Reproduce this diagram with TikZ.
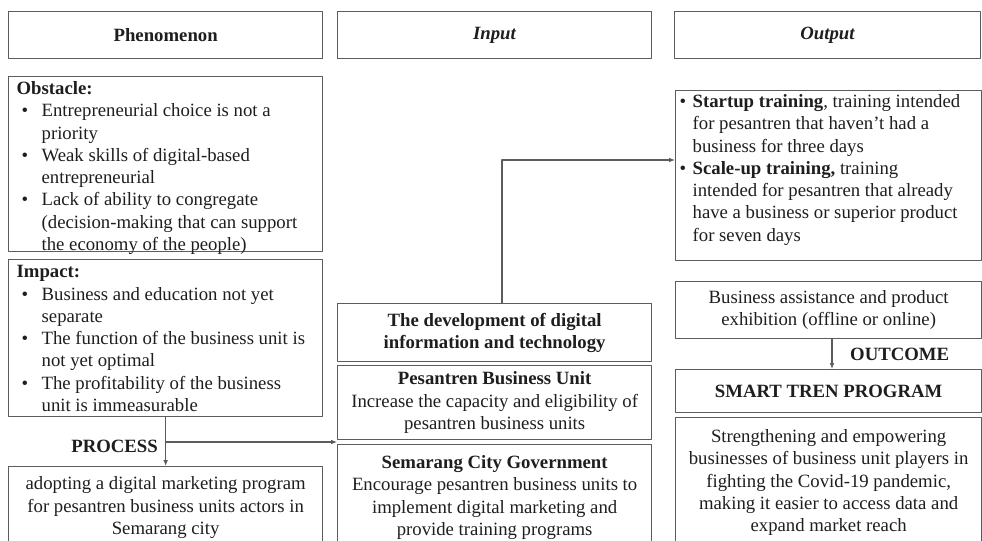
\documentclass[tikz,border=0pt]{standalone}
\usepackage{fontspec}
\setmainfont{Liberation Serif}
\usetikzlibrary{arrows.meta,positioning}
\newlength\px \setlength\px{0.03cm}
\definecolor{linegray}{HTML}{5C5C5C}
\definecolor{inkgray}{HTML}{1E1E1E}
\newcommand\bitem[3][25]{\par\hangindent=#1\px\hangafter=1\noindent\makebox[#1\px][l]{\hspace{#2\px}\textbullet}#3}
\newcommand\topcell[4]{\parbox[c][#2\px][t]{#1\px}{\raggedright\vspace*{#3\px}#4}}
\begin{document}
\begin{tikzpicture}[x=0.03cm, y=-0.03cm, line join=round, >={Latex[length=5pt,width=4pt]}]
\tikzset{every node/.style={font=\fontsize{16}{19}\selectfont, text=inkgray},
  box/.style={draw=linegray, line width=1.1pt, anchor=north west, inner sep=0pt, minimum width=314\px, align=center},
  conn/.style={draw=linegray, line width=0.9pt, ->},
  lbl/.style={font=\fontsize{16}{19}\selectfont\bfseries, inner sep=0pt}}
\def\colA{8}\def\colB{337}\def\colC{675}
\useasboundingbox (0,0) rectangle (982,541);
\clip (0,0) rectangle (982,541);
\node[box, minimum height=47\px] (phen) at (\colA,11) {\textbf{Phenomenon}};
\node[box, minimum height=47\px] (inp) at (\colB,11) {\textbf{\textit{Input}}};
\node[box, minimum height=47\px, minimum width=306\px] (outp) at (\colC-1,11) {\textbf{\textit{Output}}};
\node[box, inner xsep=8\px] (obst) at (\colA,76) {\topcell{298}{175}{5}{\textbf{Obstacle:}
  \bitem{5}{Entrepreneurial choice is not a\newline priority}
  \bitem{5}{Weak skills of digital-based\newline entrepreneurial}
  \bitem{5}{Lack of ability to congregate\newline (decision-making that can support\newline the economy of the people)}}};
\node[box, inner xsep=8\px] (imp) at (\colA,259) {\topcell{298}{157}{6}{\textbf{Impact:}
  \bitem{5}{Business and education not yet\newline separate}
  \bitem{5}{The function of the business unit is\newline not yet optimal}
  \bitem{5}{The profitability of the business\newline unit is immeasurable}}};
\node[box, minimum height=82\px] (proc) at (\colA,466) {adopting a digital marketing program\\for pesantren business units actors in\\Semarang city};
\node[box, minimum height=58\px] (dev) at (\colB,303) {\textbf{The development of digital}\\\textbf{information and technology}};
\node[box, minimum height=74\px] (pbu) at (\colB,365) {\textbf{Pesantren Business Unit}\\Increase the capacity and eligibility of\\pesantren business units};
\node[box, minimum height=106\px] (scg) at (\colB,444) {\textbf{Semarang City Government}\\Encourage pesantren business units to\\implement digital marketing and\\provide training programs};
\node[box, inner xsep=4\px, minimum width=306\px] (train) at (\colC,90) {\topcell{298}{170}{4}{%
  \bitem[13]{0}{\textbf{Startup training}, training intended\newline for pesantren that haven't had a\newline business for three days}
  \bitem[13]{0}{\textbf{Scale-up training,} training\newline intended for pesantren that already\newline have a business or superior product\newline for seven days}}};
\node[box, minimum height=57\px, minimum width=306\px] (assist) at (\colC,281) {Business assistance and product\\exhibition (offline or online)};
\node[box, minimum height=43\px, minimum width=306\px] (smart) at (\colC,369) {\textbf{SMART TREN PROGRAM}};
\node[box, minimum height=130\px, minimum width=306\px] (streng) at (\colC,417) {Strengthening and empowering\\businesses of business unit players in\\fighting the Covid-19 pandemic,\\making it easier to access data and\\expand market reach};
\node[lbl, anchor=east] (proclbl) at (158,446) {PROCESS};
\node[lbl, anchor=west] (outlbl) at (850,354) {OUTCOME};
\coordinate (split) at (165,442);
\coordinate (rise) at (502,160);
\coordinate (drop) at (832,350);
\draw[conn] (imp.south) -- (proc.north);
\draw[conn] (split) -- (split -| pbu.west);
\draw[conn] (dev.north -| rise) -- (rise) -- (rise -| train.west);
\draw[conn] (assist.south -| drop) -- (smart.north -| drop);
\end{tikzpicture}
\end{document}
